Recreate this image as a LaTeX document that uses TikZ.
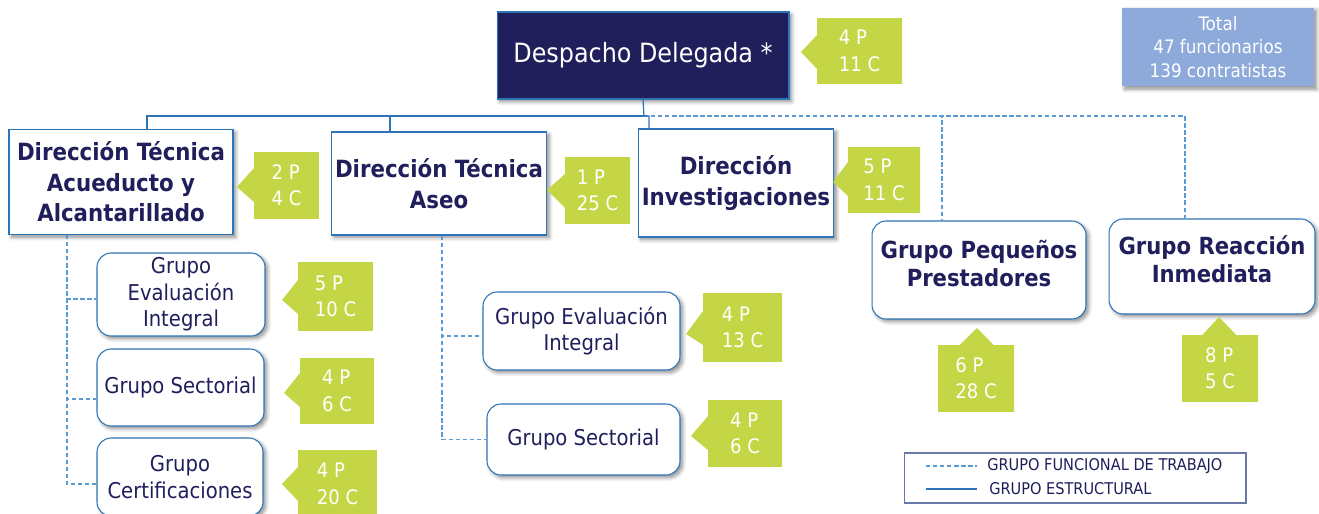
\documentclass[tikz,border=0pt]{standalone}
\usepackage{fontspec}
\setmainfont{DejaVu Sans Condensed}
\usepackage{xcolor}
\usepackage{tikz}
\usetikzlibrary{shapes}
\usetikzlibrary{shadows.blur}

\definecolor{navy}{RGB}{32,31,92}
\definecolor{boxblue}{RGB}{46,117,182}
\definecolor{dashblue}{RGB}{91,155,213}
\definecolor{countgreen}{RGB}{196,214,69}
\definecolor{totalblue}{RGB}{142,170,219}
\definecolor{framegray}{RGB}{105,120,168}

\tikzset{
    box/.style={draw=boxblue, line width=0.6pt, fill=white, text=navy, align=center, inner sep=2pt,
        blur shadow={shadow xshift=1.5pt, shadow yshift=-1.5pt, shadow blur steps=6, shadow opacity=45}},
    dir/.style={box, font=\bfseries\fontsize{13.5}{17.4}\selectfont},
    grp/.style={box, rounded corners=8pt, font=\fontsize{12.4}{15.1}\selectfont},
    grpb/.style={dir, rounded corners=8pt, text depth=8pt, font=\bfseries\fontsize{13.4}{16}\selectfont},
    cnt/.style={rectangle callout, fill=countgreen, text=white, align=left, inner sep=0pt,
        callout pointer width=0.68cm, font=\fontsize{11.4}{15}\selectfont},
    estr/.style={boxblue, line width=0.7pt},
    func/.style={dashblue, line width=0.7pt, dash pattern=on 2.5pt off 1.5pt},
    legtxt/.style={text=navy, inner sep=0pt, font=\fontsize{9.2}{10}\selectfont}
}

\begin{document}
\begin{tikzpicture}[x=0.02cm, y=-0.02cm]
                \useasboundingbox (0,0) rectangle (1319,514);

                %despacho
                \node[box, fill=navy, text=white, minimum width=5.84cm, minimum height=1.74cm, font=\fontsize{15.1}{18}\selectfont] (desp) at (643,55.5) {Despacho Delegada *};
                    \node[cnt, minimum width=1.7cm, minimum height=1.32cm, callout absolute pointer={(801,52)}] (cdesp) at (859.5,51) {4 P\\11 C};
                %total
                \node[box, fill=totalblue, draw=none, text=white, minimum width=3.84cm, minimum height=1.58cm, font=\fontsize{10.6}{13.4}\selectfont] (total) at (1218,47) {Total\\47 funcionarios\\139 contratistas};

                %direcciones
                \node[dir, minimum width=4.48cm, minimum height=2.1cm] (dtaa) at (121,182) {Dirección Técnica\\Acueducto y\\Alcantarillado};
                    \node[cnt, minimum width=1.3cm, minimum height=1.34cm, callout absolute pointer={(237,187)}] (cdtaa) at (286.5,185.5) {2 P\\4 C};
                \node[dir, minimum width=4.28cm, minimum height=2.06cm] (dta) at (439,183.5) {Dirección Técnica\\Aseo};
                    \node[cnt, minimum width=1.3cm, minimum height=1.34cm, callout absolute pointer={(547,190)}] (cdta) at (597.5,190.5) {1 P\\25 C};
                \node[dir, minimum width=3.84cm, minimum height=2.16cm] (di) at (736,183) {Dirección\\Investigaciones};
                    \node[cnt, minimum width=1.44cm, minimum height=1.32cm, callout absolute pointer={(833,182)}] (cdi) at (884,180) {5 P\\11 C};

                %grupos de trabajo sueltos
                \node[grpb, minimum width=4.28cm, minimum height=1.96cm] (gpp) at (979,270) {Grupo Pequeños\\Prestadores};
                    \node[cnt, minimum width=1.52cm, minimum height=1.34cm, callout absolute pointer={(977,328)}] (cgpp) at (976,378.5) {6 P\\28 C};
                \node[grpb, minimum width=4.12cm, minimum height=1.9cm] (gri) at (1212,266.5) {Grupo Reacción\\Inmediata};
                    \node[cnt, minimum width=1.52cm, minimum height=1.34cm, callout absolute pointer={(1219,317)}] (cgri) at (1220,368.5) {8 P\\5 C};

                %grupos acueducto
                \node[grp, minimum width=3.36cm, minimum height=1.66cm] (gei1) at (181,294.5) {Grupo\\Evaluación\\Integral};
                    \node[cnt, minimum width=1.5cm, minimum height=1.38cm, callout absolute pointer={(282,300)}] (cgei1) at (335.5,296.5) {5 P\\10 C};
                \node[grp, minimum width=3.34cm, minimum height=1.54cm] (gs1) at (180.5,387.5) {Grupo Sectorial};
                    \node[cnt, minimum width=1.48cm, minimum height=1.32cm, callout absolute pointer={(284,393)}] (cgs1) at (337,391) {4 P\\6 C};
                \node[grp, minimum width=3.32cm, minimum height=1.56cm] (gc1) at (180,477) {Grupo\\Certificaciones};
                    \node[cnt, minimum width=1.58cm, minimum height=1.36cm, callout absolute pointer={(282,484)}] (cgc1) at (337.5,484) {4 P\\20 C};

                %grupos aseo
                \node[grp, minimum width=3.94cm, minimum height=1.56cm] (gei2) at (581.5,331) {Grupo Evaluación\\Integral};
                    \node[cnt, minimum width=1.58cm, minimum height=1.38cm, callout absolute pointer={(686,334)}] (cgei2) at (742.5,327.5) {4 P\\13 C};
                \node[grp, minimum width=3.86cm, minimum height=1.42cm] (gs2) at (583.5,439.5) {Grupo Sectorial};
                    \node[cnt, minimum width=1.48cm, minimum height=1.34cm, callout absolute pointer={(691,436)}] (cgs2) at (745,433.5) {4 P\\6 C};

                % lineas estructurales
                \coordinate (bus) at (644,116);
                \draw[func] (bus) -| ([xshift=-0.74cm]gpp.north);
                \draw[func] (bus) -| ([xshift=-0.54cm]gri.north);
                \draw[estr] ([xshift=0.52cm]dtaa.north) |- (bus);
                \draw[estr] ([xshift=-0.98cm]dta.north) |- (bus);
                \draw[estr] (desp.south) -- (bus) -| ([xshift=-1.74cm]di.north);

                % lineas funcionales
                \draw[func] ([xshift=-1.08cm]dtaa.south) |- ([yshift=-0.09cm]gei1.west);
                \draw[func] ([xshift=-1.08cm]dtaa.south) |- ([yshift=-0.23cm]gs1.west);
                \draw[func] ([xshift=-1.08cm]dtaa.south) |- ([yshift=-0.14cm]gc1.west);
                \draw[func] ([xshift=0.06cm]dta.south) |- ([yshift=-0.1cm]gei2.west);
                \draw[func] ([xshift=0.06cm]dta.south) |- (gs2.west);

                %leyenda
                \node[draw=framegray, line width=0.6pt, minimum width=6.84cm, minimum height=1.0cm] (legend) at (1075,478) {};
                \node[legtxt, anchor=west] (lfunc) at (987,466) {GRUPO FUNCIONAL DE TRABAJO};
                    \draw[func] ([xshift=-1.22cm]lfunc.west) -- ++(1.02cm,0);
                \node[legtxt, anchor=west] (lestr) at (989,489) {GRUPO ESTRUCTURAL};
                    \draw[estr] ([xshift=-1.26cm]lestr.west) -- ++(1.02cm,0);

            \end{tikzpicture}
\end{document}
